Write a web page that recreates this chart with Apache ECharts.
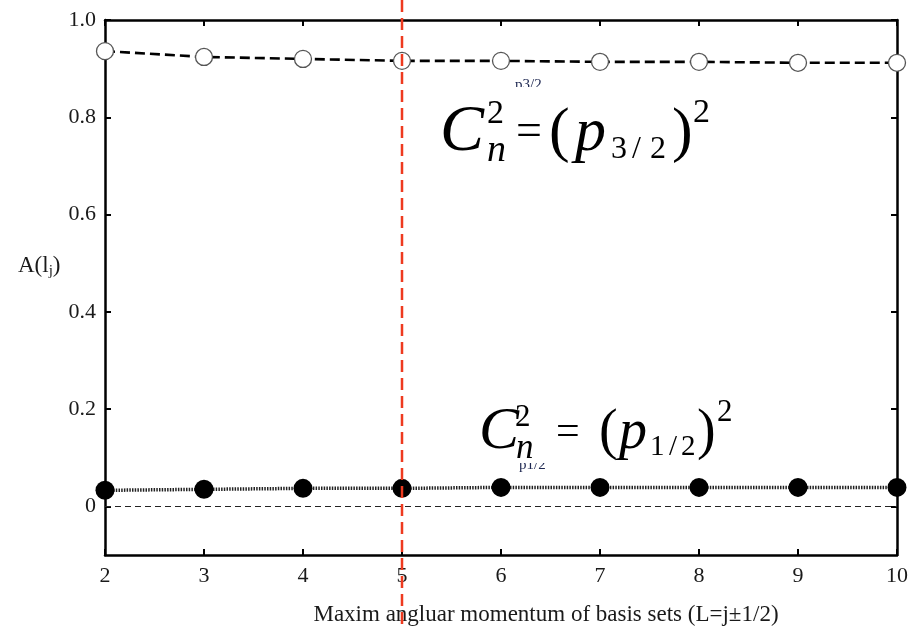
<!DOCTYPE html>
<html>
<head>
<meta charset="utf-8">
<script src="https://cdn.jsdelivr.net/npm/echarts@6/dist/echarts.min.js"></script>
<style>
  html, body { margin: 0; padding: 0; background: #fff; }
  #chart { width: 914px; height: 628px; }
</style>
</head>
<body>
<div id="chart"></div>
<script>
// Maximum angular momentum of the basis set (x axis)
const lValues = [2, 3, 4, 5, 6, 7, 8, 9, 10];
// Weight of the p3/2 component
const p32 = [0.936, 0.924, 0.920, 0.916, 0.916, 0.914, 0.914, 0.912, 0.912];
// Weight of the p1/2 component
const p12 = [0.033, 0.035, 0.037, 0.037, 0.039, 0.039, 0.039, 0.039, 0.039];
// Tick values shown on the y axis
const yTicks = [0, 0.2, 0.4, 0.6, 0.8, 1.0];
// Basis-set size marked by the vertical red line
const markedL = 5;

const serif = '"Liberation Serif", "DejaVu Serif", serif';
const chart = echarts.init(document.getElementById('chart'));

const pairs = (ys) => lValues.map((x, i) => [x, ys[i]]);

const axisLineStyle = { color: '#000', width: 2.5 };
const tickStyle = { color: '#000', width: 2 };

chart.setOption({
  animation: false,
  backgroundColor: '#fff',
  grid: { left: 105, right: 17, top: 20, bottom: 73 },
  xAxis: [
    {
      type: 'value', min: 2, max: 10, interval: 1,
      axisLine: { show: true, onZero: false, lineStyle: axisLineStyle },
      axisTick: { show: true, inside: true, length: 6, lineStyle: tickStyle },
      axisLabel: { show: true, margin: 10, fontFamily: serif, fontSize: 22, color: '#1a1a1a' },
      splitLine: { show: false }
    },
    {
      type: 'value', position: 'top', min: 2, max: 10, interval: 1,
      axisLine: { show: true, onZero: false, lineStyle: axisLineStyle },
      axisTick: { show: true, inside: true, length: 6, lineStyle: tickStyle },
      axisLabel: { show: false },
      splitLine: { show: false }
    }
  ],
  yAxis: [
    {
      type: 'value', min: -0.1, max: 1.0,
      axisLine: { show: true, onZero: false, lineStyle: axisLineStyle },
      axisTick: { show: true, inside: true, length: 6, customValues: yTicks, lineStyle: tickStyle },
      axisLabel: {
        show: true, margin: 9, customValues: yTicks,
        fontFamily: serif, fontSize: 22, color: '#1a1a1a',
        formatter: (v) => (Math.abs(v) < 1e-9 ? '0' : v.toFixed(1))
      },
      splitLine: { show: false }
    },
    {
      type: 'value', position: 'right', min: -0.1, max: 1.0,
      axisLine: { show: true, onZero: false, lineStyle: axisLineStyle },
      axisTick: { show: true, inside: true, length: 6, customValues: yTicks, lineStyle: tickStyle },
      axisLabel: { show: false },
      splitLine: { show: false }
    }
  ],
  series: [
    {
      name: 'p3/2',
      type: 'line',
      data: pairs(p32),
      symbol: 'circle',
      symbolSize: 17,
      clip: false,
      lineStyle: { color: '#000', width: 2.6, type: [10, 5] },
      itemStyle: { color: '#fff', borderColor: '#555', borderWidth: 1.3 },
      z: 3
    },
    {
      name: 'p1/2',
      type: 'line',
      data: pairs(p12),
      symbol: 'circle',
      symbolSize: 19,
      clip: false,
      lineStyle: { color: '#222', width: 3.5, type: [1.5, 1.2] },
      itemStyle: { color: '#000', borderColor: '#000', borderWidth: 0 },
      z: 3,
      markLine: {
        silent: true,
        symbol: 'none',
        label: { show: false },
        lineStyle: { color: '#222', width: 1, type: [6, 4] },
        data: [{ yAxis: 0 }]
      }
    }
  ]
});

// Annotation layer: axis titles, series tags and the two formulas
const lineX = chart.convertToPixel({ xAxisIndex: 0 }, markedL);

// text placed by its baseline (top-aligned box, baseline ~0.79 em below the top)
function t(x, baseline, text, size, opts) {
  opts = opts || {};
  return {
    type: 'text', x: x, y: baseline - 0.79 * size, z: opts.z || 20,
    style: Object.assign({
      text: text, fontFamily: serif, fontSize: size, fill: '#000',
      align: 'left', verticalAlign: 'top'
    }, opts.style || {})
  };
}
const it = { style: { fontStyle: 'italic' } };

const graphics = [
  // series tags (partly hidden behind the formula panels)
  t(515, 89, 'p3/2', 15, { z: 10, style: { fill: '#1c2650' } }),
  t(519, 469, 'p1/2', 15, { z: 10, style: { fill: '#1c2650' } }),
  // white panels behind formulas
  { type: 'rect', z: 15, shape: { x: 432, y: 87, width: 280, height: 85 }, style: { fill: '#fff' } },
  { type: 'rect', z: 15, shape: { x: 472, y: 390, width: 285, height: 73 }, style: { fill: '#fff' } },

  // C_n^2 = (p_{3/2})^2
  t(440, 152, 'C', 66, it),
  t(487, 124, '2', 34),
  t(487, 162, 'n', 38, it),
  t(516, 146, '=', 46),
  t(549, 152, '(', 62),
  t(575, 152, 'p', 62, it),
  t(611, 159, '3', 32),
  t(632, 159, '/', 32),
  t(650, 159, '2', 32),
  t(672, 152, ')', 62),
  t(693, 123, '2', 34),

  // C_n^2 = (p_{1/2})^2
  t(479, 450, 'C', 60, it),
  t(515, 427, '2', 31),
  t(516, 459, 'n', 35, it),
  t(556, 445, '=', 42),
  t(599, 450, '(', 56),
  t(619, 450, 'p', 56, it),
  t(650, 456, '1', 29),
  t(669, 456, '/', 29),
  t(681, 456, '2', 29),
  t(697, 450, ')', 56),
  t(717, 422, '2', 31),

  // axis titles
  t(546, 622, 'Maxim angluar momentum of basis sets (L=j\u00B11/2)', 23, { style: { align: 'center', fill: '#1a1a1a' } }),
  {
    type: 'text', x: 18, y: 252, z: 20,
    style: {
      text: '{a|A(l}{s|j}{a|)}',
      verticalAlign: 'top',
      rich: {
        a: { fontFamily: serif, fontSize: 23, fill: '#1a1a1a' },
        s: { fontFamily: serif, fontSize: 15, fill: '#1a1a1a', padding: [12, 0, 0, 0] }
      }
    }
  },

  // vertical red marker spanning the full height
  {
    type: 'line', z: 30,
    shape: { x1: lineX, y1: 0, x2: lineX, y2: 628 },
    style: { stroke: '#ee3a1f', lineWidth: 2.5, lineDash: [12, 6] }
  }
];

chart.setOption({ graphic: graphics });
</script>
</body>
</html>
